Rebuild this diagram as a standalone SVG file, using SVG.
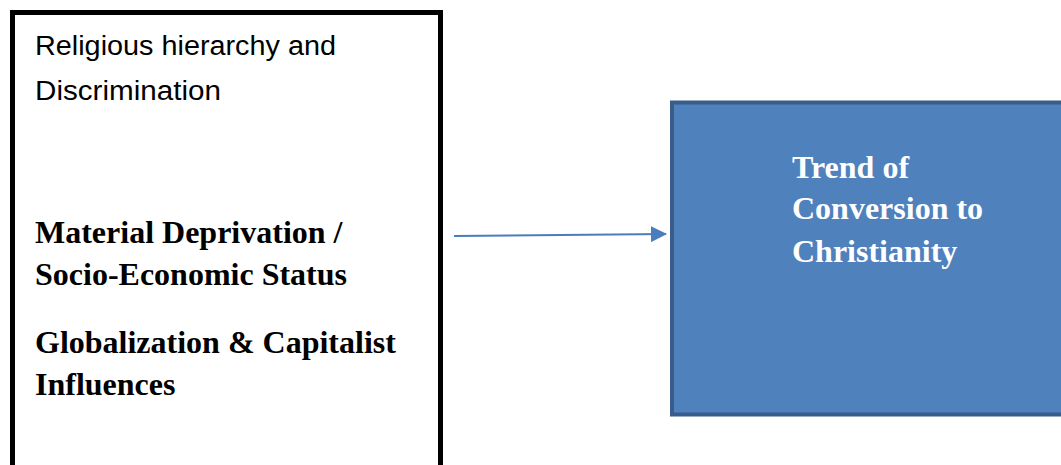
<svg xmlns="http://www.w3.org/2000/svg" width="1061" height="465" viewBox="0 0 1061 465">
<style>
.reg{font-family:"Liberation Sans",Arial,sans-serif;font-size:27px;fill:#000}
.bold{font-family:"Liberation Serif","Times New Roman",serif;font-weight:bold;font-size:32px;fill:#000}
.wt{font-family:"Liberation Serif","Times New Roman",serif;font-weight:bold;font-size:32px;fill:#fff}
</style>
<defs>
<marker id="ah" markerWidth="16" markerHeight="16" refX="15" refY="8" orient="auto" markerUnits="userSpaceOnUse">
<path d="M0,0 L16,8 L0,16 Z" fill="#4A7EBB"/>
</marker>
</defs>
<g id="factors">
<rect x="12.5" y="12.5" width="428" height="470" fill="#fff" stroke="#000" stroke-width="5"/>
<text class="reg" x="35" y="55" textLength="301" lengthAdjust="spacingAndGlyphs">Religious hierarchy and</text>
<text class="reg" x="35" y="100" textLength="186" lengthAdjust="spacingAndGlyphs">Discrimination</text>
<text class="bold" x="35" y="243">Material Deprivation /</text>
<text class="bold" x="35" y="285">Socio-Economic Status</text>
<text class="bold" x="35" y="353">Globalization &amp; Capitalist</text>
<text class="bold" x="35" y="395">Influences</text>
</g>
<g id="outcome">
<rect x="672" y="102.5" width="400" height="312" fill="#4F81BD" stroke="#385D8A" stroke-width="4"/>
<text class="wt" x="792" y="178">Trend of</text>
<text class="wt" x="792" y="219">Conversion to</text>
<text class="wt" x="792" y="262">Christianity</text>
</g>
<g id="connectors">
<line x1="454" y1="236" x2="666" y2="234" stroke="#4A7EBB" stroke-width="2" marker-end="url(#ah)"/>
</g>
</svg>
